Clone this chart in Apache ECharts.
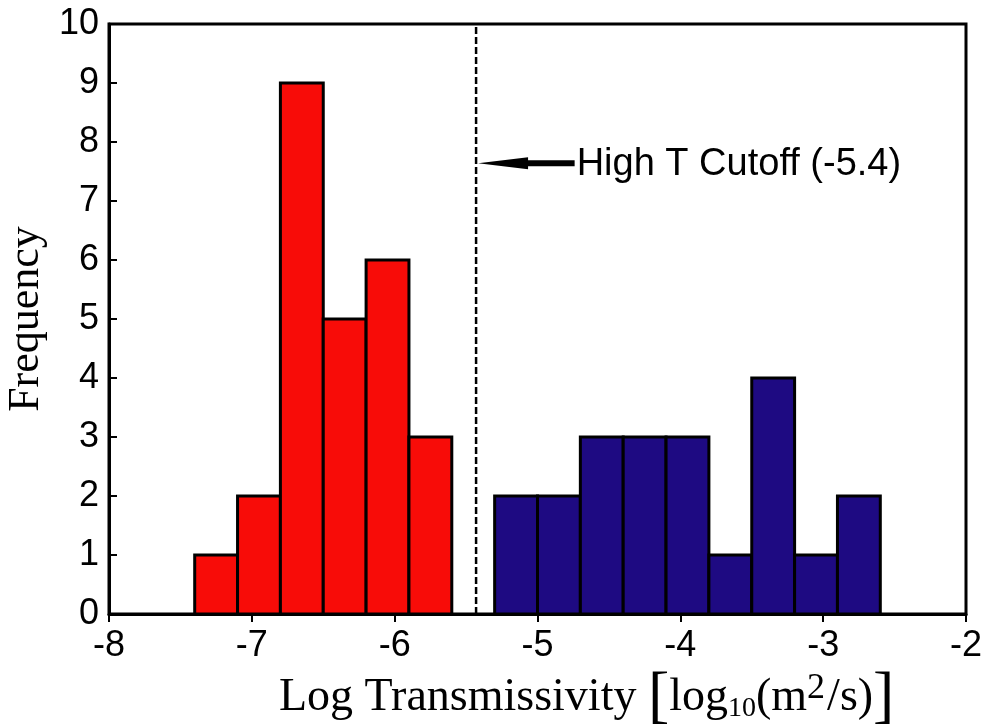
<!DOCTYPE html>
<html>
<head>
<meta charset="utf-8">
<script src="https://cdn.jsdelivr.net/npm/echarts@6/dist/echarts.min.js"></script>
<style>html,body{margin:0;padding:0;background:#fff;}#chart{width:984px;height:727px;}</style>
</head>
<body>
<div id="chart"></div>
<script>
// Histogram bins: [left edge, right edge]
const lowBinsLeft  = [-7.4, -7.1, -6.8, -6.5, -6.2, -5.9];
const lowCounts    = [1, 2, 9, 5, 6, 3];
const highBinsLeft = [-5.3, -5.0, -4.7, -4.4, -4.1, -3.8, -3.5, -3.2, -2.9];
const highCounts   = [2, 2, 3, 3, 3, 1, 4, 1, 2];
const binWidth = 0.3;
const cutoff = -5.43;
const cutoffLabel = 'High T Cutoff (-5.4)';
const arrowY = 7.64;
const arrowTailX = -4.74;
const xTicks = [-8, -7, -6, -5, -4, -3, -2];
const yTicks = [0, 1, 2, 3, 4, 5, 6, 7, 8, 9, 10];

const lowData = lowBinsLeft.map((l, i) => [l, l + binWidth, lowCounts[i]]);
const highData = highBinsLeft.map((l, i) => [l, l + binWidth, highCounts[i]]);

function barRender(color) {
  return function (params, api) {
    const p0 = api.coord([api.value(0), api.value(2)]);
    const p1 = api.coord([api.value(1), 0]);
    return {
      type: 'rect',
      shape: { x: p0[0], y: p0[1], width: p1[0] - p0[0], height: p1[1] - p0[1] },
      style: { fill: color, stroke: '#000', lineWidth: 3 }
    };
  };
}

const chart = echarts.init(document.getElementById('chart'));
chart.setOption({
  animation: false,
  backgroundColor: '#fff',
  grid: { left: 109, right: 18, top: 24, bottom: 113, show: true, borderColor: '#000', borderWidth: 3,
          containLabel: false, outerBoundsMode: 'none' },
  xAxis: {
    type: 'value', min: xTicks[0], max: xTicks[xTicks.length - 1], interval: 1,
    axisLine: { show: true, lineStyle: { color: '#000', width: 3 } },
    axisTick: { show: true, inside: false, length: 8, lineStyle: { color: '#000', width: 2 } },
    axisLabel: { color: '#000', fontSize: 36, fontFamily: 'Liberation Sans, Arial, sans-serif', margin: 14 },
    splitLine: { show: false }
  },
  yAxis: {
    type: 'value', min: yTicks[0], max: yTicks[yTicks.length - 1], interval: 1,
    name: 'Frequency', nameLocation: 'middle', nameGap: 60,
    nameTextStyle: { color: '#000', fontSize: 44, fontFamily: 'Liberation Serif, Times New Roman, serif' },
    axisLine: { show: true, lineStyle: { color: '#000', width: 3 } },
    axisTick: { show: true, inside: true, length: 8, lineStyle: { color: '#000', width: 2 } },
    axisLabel: { color: '#000', fontSize: 36, fontFamily: 'Liberation Sans, Arial, sans-serif', margin: 10 },
    splitLine: { show: false }
  },
  graphic: [{
    type: 'text', left: 279, top: 666, z: 10,
    style: {
      text: '{n|Log Transmissivity }{b|[}{n|log}{s|10}{n|(m}{p|2}{n|/s)}{b|]}',
      fill: '#000',
      rich: {
        n: { fontSize: 46, fontFamily: 'Liberation Serif, serif', lineHeight: 62, verticalAlign: 'middle' },
        b: { fontSize: 64, fontFamily: 'Liberation Serif, serif', lineHeight: 62, verticalAlign: 'middle' },
        s: { fontSize: 28, fontFamily: 'Liberation Serif, serif', lineHeight: 62, verticalAlign: 'bottom', padding: [0, 0, 6, 0] },
        p: { fontSize: 36, fontFamily: 'Liberation Serif, serif', lineHeight: 62, verticalAlign: 'top', padding: [4, 2, 0, 0] }
      }
    }
  }],
  series: [
    { type: 'custom', name: 'low', renderItem: barRender('#F80C08'), data: lowData, encode: { x: [0, 1], y: 2 }, z: 3 },
    { type: 'custom', name: 'high', renderItem: barRender('#1E0A82'), data: highData, encode: { x: [0, 1], y: 2 }, z: 3 },
    { type: 'line', name: 'cutoff', data: [[cutoff, yTicks[0]], [cutoff, yTicks[yTicks.length - 1]]],
      symbol: 'none', lineStyle: { color: '#000', width: 2.5, type: [7, 3] }, z: 4 },
    { type: 'custom', name: 'arrow', z: 5,
      data: [[cutoff, arrowTailX, arrowY]],
      encode: { x: [0, 1], y: 2 },
      renderItem: function (params, api) {
        const tip = api.coord([api.value(0), api.value(2)]);
        const tail = api.coord([api.value(1), api.value(2)]);
        const tipX = tip[0] + 2;
        const headLen = 50, headHalf = 6;
        return {
          type: 'group',
          children: [
            { type: 'rect', shape: { x: tipX + headLen - 2, y: tip[1] - 3, width: tail[0] - tipX - headLen + 2, height: 6 }, style: { fill: '#000' } },
            { type: 'polygon', shape: { points: [[tipX, tip[1]], [tipX + headLen, tip[1] - headHalf], [tipX + headLen, tip[1] + headHalf]] }, style: { fill: '#000' } },
            { type: 'text', x: tail[0] + 2, y: tail[1] + 1, style: { text: cutoffLabel, fill: '#000', fontSize: 38, fontFamily: 'Liberation Sans, Arial, sans-serif', textAlign: 'left', textVerticalAlign: 'middle' } }
          ]
        };
      }
    }
  ]
});
</script>
</body>
</html>
